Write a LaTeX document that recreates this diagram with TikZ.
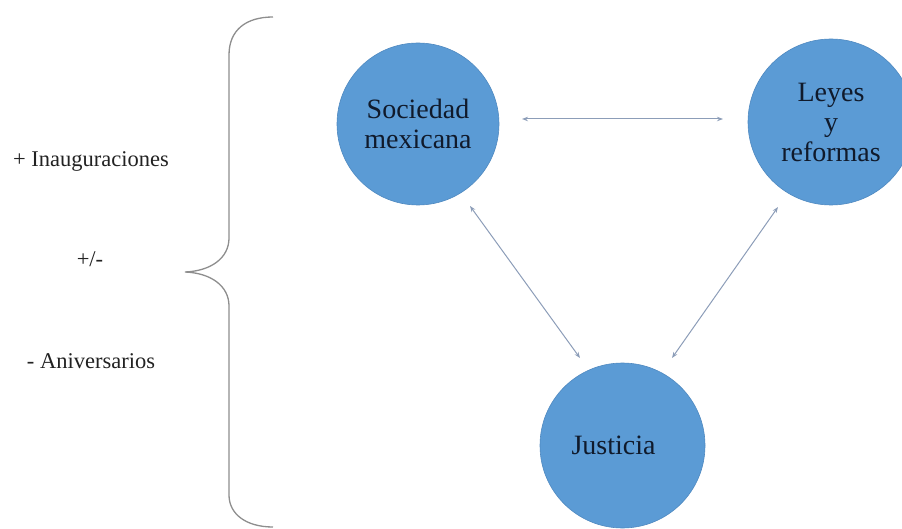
\documentclass[tikz,border=0pt]{standalone}
\usepackage{fontspec}
\setmainfont{Liberation Serif}
\usetikzlibrary{arrows.meta}
\definecolor{discfill}{HTML}{5B9BD5}
\definecolor{discedge}{HTML}{4F89C0}
\definecolor{disctext}{HTML}{101A2B}
\definecolor{linkcol}{HTML}{8C9DB8}
\definecolor{bracecol}{HTML}{8E8E8E}
\definecolor{sidetext}{HTML}{222222}
\begin{document}
\begin{tikzpicture}[x=1pt,y=-1pt,
  disc/.style={circle,fill=discfill,draw=discedge,line width=0.6pt,
    inner sep=0pt,align=center,text=disctext,
    font=\fontsize{28}{30}\selectfont},
  link/.style={draw=linkcol,line width=1pt,
    {Stealth[length=6pt,width=4.5pt]}-{Stealth[length=6pt,width=4.5pt]}},
  sidelabel/.style={anchor=base,inner sep=0pt,text=sidetext,
    font=\fontsize{22.5}{26}\selectfont},
  bracepath/.style={draw=bracecol,line width=1.3pt}]
  \clip (0,0) rectangle (902,529);
  \useasboundingbox (0,0) rectangle (902,529);

  % the three circles
  \node[disc,minimum size=162pt] (soc) at (418,124) {Sociedad\\mexicana};
  \node[disc,minimum size=166pt] (ley) at (831,122) {Leyes\\y\\reformas};
  \node[disc,minimum size=165pt] (jus) at (622.5,445.5) {Justicia\hspace*{18pt}};

  % two-way links between the circles
  \draw[link] ([shift={(104,-5)}]soc.center) -- ([shift={(-108,-3)}]ley.center);
  \draw[link] ([shift={(52,82)}]soc.center) -- ([shift={(-42.5,-87.5)}]jus.center);
  \draw[link] ([shift={(49.5,-87.5)}]jus.center) -- ([shift={(-53,85)}]ley.center);

  % curly brace on the left
  \coordinate (btop) at (273,17);
  \coordinate (btip) at (185,272);
  \coordinate (bbot) at (273,527);
  \draw[bracepath] (btop) .. controls (246,17) and (229,30) .. (229,55)
    -- (229,238) .. controls (229,258) and (211,271) .. (btip)
    .. controls (211,273) and (229,286) .. (229,306)
    -- (229,495) .. controls (229,514) and (246,527) .. (bbot);

  % labels beside the brace
  \node[sidelabel] (plus) at (91,167) {+ Inauguraciones};
  \node[sidelabel] (pm) at (90,267) {+/-};
  \node[sidelabel] (minus) at (91,368) {- Aniversarios};
\end{tikzpicture}
\end{document}
